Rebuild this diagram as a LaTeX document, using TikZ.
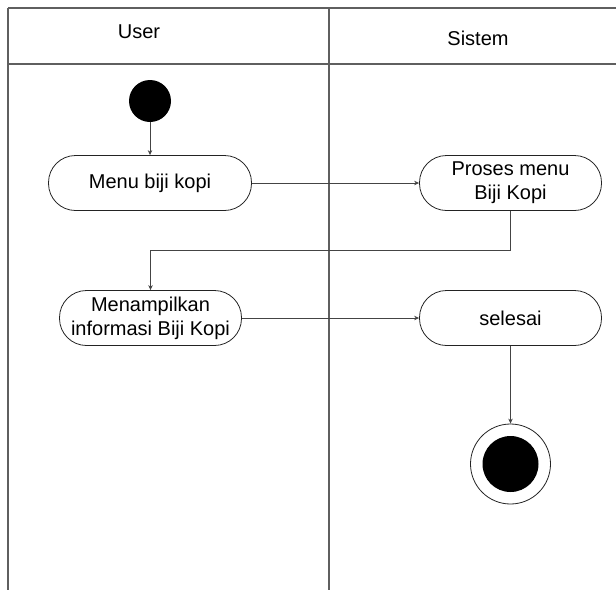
\documentclass[tikz,border=0pt]{standalone}
\usepackage{fontspec}
\setmainfont{Liberation Sans}
\usetikzlibrary{arrows.meta,positioning}
\definecolor{lanegray}{RGB}{95,95,95}
\definecolor{ink}{RGB}{35,35,35}
\tikzset{
  >={Stealth[length=5pt,width=4.5pt]},
  act/.style={draw=ink,line width=0.8pt,rounded corners=27pt,minimum width=#1,
    minimum height=55pt,inner sep=0pt,align=center,
    font=\fontsize{20}{24}\selectfont},
  act/.default=182pt,
  flow/.style={->,draw=ink!85,line width=0.8pt},
  lane/.style={draw=lanegray,line width=1.3pt},
  head/.style={font=\fontsize{20}{24}\selectfont},
  dot/.style={circle,fill=black,inner sep=0pt,minimum size=#1},
}
\begin{document}
\begin{tikzpicture}[x=1pt,y=-1pt]
  \useasboundingbox (0,0) rectangle (616,590);
  % swimlanes
  \draw[lane] (8,8) -- (616,8);
  \draw[lane] (8,64) -- (616,64);
  \draw[lane] (8,8) -- (8,590);
  \draw[lane] (329,8) -- (329,590);
  \node[head] (user) at (139,32) {User};
  \node[head] (sistem) at (478,38) {Sistem};
  % activities
  \node[dot=42pt] (start) at (150,101) {};
  \node[act=203pt] (menu) at (150,183) {Menu biji kopi};
  \node[act] (proses) at (510.5,183) {Proses menu\\Biji Kopi};
  \node[act] (tampil) at (150.5,318) {Menampilkan\\informasi Biji Kopi};
  \node[act] (selesai) at (510.5,318) {selesai};
  \node[circle,draw=ink,line width=0.8pt,inner sep=0pt,minimum size=80pt] (stop) at (510.5,464) {};
  \node[dot=56pt] (stopdot) at (stop) {};
  % flows
  \draw[flow] (start) -- (menu);
  \draw[flow] (menu) -- (proses);
  \draw[flow] (proses.south) -- ++(0,39) -| (tampil.north);
  \draw[flow] (tampil) -- (selesai);
  \draw[flow] (selesai) -- (stop);
\end{tikzpicture}
\end{document}
